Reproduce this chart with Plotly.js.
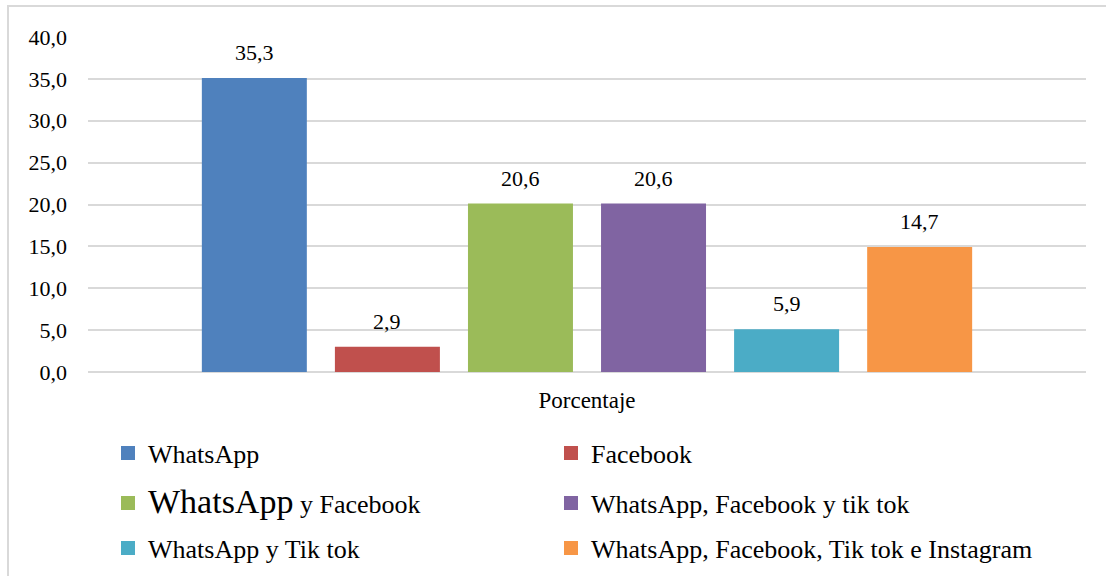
<!DOCTYPE html>
<html>
<head>
<meta charset="utf-8">
<script src="https://cdn.plot.ly/plotly-3.0.1.min.js"></script>
<style>
  html, body { margin: 0; padding: 0; background: #fff; overflow: hidden; }
  #wrap { position: relative; width: 1106px; height: 576px; }
  #chart { position: absolute; left: 0; top: 0; width: 1106px; height: 576px; }
  #frame { position: absolute; left: 7px; top: 5px; width: 1200px; height: 700px;
           border: 2px solid #d9d9d9; pointer-events: none; }
</style>
</head>
<body>
<div id="wrap">
  <div id="chart"></div>
  <div id="frame"></div>
</div>
<script>
// ---- data ----
const category = "Porcentaje";
const seriesNames = [
  "WhatsApp",
  "Facebook",
  "<span style='font-size:34px'>WhatsApp</span> y Facebook",
  "WhatsApp, Facebook y tik tok",
  "WhatsApp y Tik tok",
  "WhatsApp, Facebook, Tik tok e Instagram"
];
const barValues   = [35.0, 2.9, 20.0, 20.0, 5.0, 14.8];   // bar heights as drawn
const labelValues = [35.3, 2.9, 20.6, 20.6, 5.9, 14.7];   // data labels as printed
const colors = ["#4f81bd", "#c0504d", "#9bbb59", "#8064a2", "#4bacc6", "#f79646"];
const yTickVals = [0, 5, 10, 15, 20, 25, 30, 35, 40];

// ---- layout constants ----
const FONT = "Liberation Serif";
const bargap = 0.2, bargroupgap = 0.226;
const n = seriesNames.length;
const W = 1106, H = 576;
const legendX = [108, 551];
const legendRowY = [453, 503, 548];

const traces = seriesNames.map((name, i) => ({
  type: "bar",
  name: name,
  x: [category],
  y: [barValues[i]],
  marker: { color: colors[i], line: { color: colors[i], width: 2 } },
  legend: i === 0 ? "legend" : "legend" + (i + 1),
  hoverinfo: "skip"
}));

const fmt = v => v.toFixed(1).replace(".", ",");
const annotations = labelValues.map((v, i) => ({
  xref: "x", yref: "y",
  x: -(1 - bargap) / 2 + (i + 0.5) * (1 - bargap) / n,
  y: barValues[i],
  text: fmt(v),
  showarrow: false,
  yanchor: "bottom",
  xanchor: "center",
  yshift: 12,
  font: { family: FONT, size: 22, color: "#000" }
}));

const layout = {
  width: W, height: H,
  margin: { l: 88, r: 20, t: 37, b: 204, autoexpand: false },
  paper_bgcolor: "#fff",
  plot_bgcolor: "#fff",
  separators: ",.",
  barmode: "group",
  bargap: bargap,
  bargroupgap: bargroupgap,
  font: { family: FONT, size: 22, color: "#000" },
  xaxis: {
    type: "category",
    showgrid: false,
    showline: false,
    zeroline: false,
    ticks: "",
    ticklabelstandoff: 12,
    automargin: false,
    tickfont: { family: FONT, size: 23, color: "#000" }
  },
  yaxis: {
    range: [0, 40],
    tickvals: yTickVals,
    tickformat: ".1f",
    showgrid: true,
    gridcolor: "#d9d9d9",
    gridwidth: 2,
    zeroline: true,
    zerolinecolor: "#d9d9d9",
    zerolinewidth: 2,
    showline: false,
    ticks: "",
    ticklabelstandoff: 20,
    automargin: false,
    tickfont: { family: FONT, size: 22, color: "#000" }
  },
  annotations: annotations,
  showlegend: true
};

for (let i = 0; i < n; i++) {
  const key = i === 0 ? "legend" : "legend" + (i + 1);
  const col = i % 2, row = Math.floor(i / 2);
  layout[key] = {
    xref: "container", yref: "container",
    x: legendX[col] / W,
    y: 1 - legendRowY[row] / H,
    xanchor: "left", yanchor: "middle",
    orientation: "v",
    bgcolor: "rgba(0,0,0,0)",
    borderwidth: 0,
    itemclick: false, itemdoubleclick: false,
    font: { family: FONT, size: 26, color: "#000" }
  };
}

Plotly.newPlot("chart", traces, layout, { displayModeBar: false, staticPlot: true });
</script>
</body>
</html>
